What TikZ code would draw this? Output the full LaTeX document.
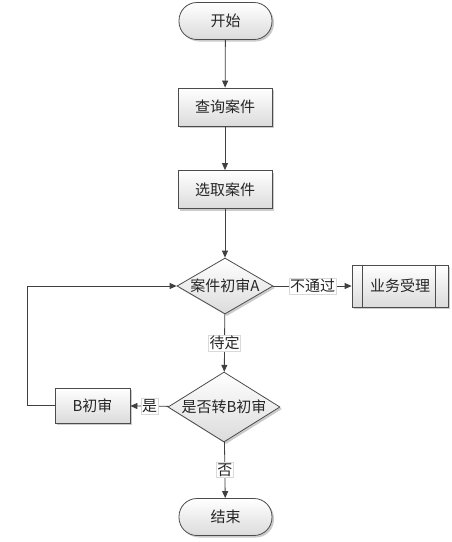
\documentclass[tikz,border=0pt]{standalone}
\usepackage{fontspec}
\newfontfamily\cjk{Noto Sans CJK SC}
\usetikzlibrary{shapes.geometric,shadows,arrows.meta,calc}
\begin{document}
\begin{tikzpicture}[x=1pt,y=-1pt,
  txt/.style={font=\cjk\fontsize{15}{18}\selectfont, text=black!85},
  base/.style={txt, draw=black!70, line width=0.8pt, top color=white, bottom color=black!14,
    drop shadow={shadow xshift=2pt, shadow yshift=-2pt, fill=black!40, opacity=0.5}, inner sep=0pt},
  term/.style={base, rectangle, rounded corners=18pt, minimum width=93pt, minimum height=37pt},
  proc/.style={base, rectangle, minimum width=94pt, minimum height=38pt},
  dec/.style={base, diamond},
  lbl/.style={txt, fill=white, draw=black!15, line width=0.4pt, inner sep=1pt},
  arr/.style={draw=black!75, line width=0.8pt, -{Triangle[length=7pt,width=6pt]}},
  ln/.style={draw=black!75, line width=0.8pt}]
\useasboundingbox[fill=white] (0,0) rectangle (451,542);

\node[term] (start) at (225.5,21) {开始};
\node[proc] (q) at (225,107) {查询案件};
\node[proc] (s) at (225,189.5) {选取案件};
\node[dec, minimum width=96pt, minimum height=56pt] (d1) at (225,286) {\makebox[0pt]{案件初审A}};
\node[proc, minimum width=96pt, minimum height=42pt] (yw) at (400,286) {业务受理};
\draw[draw=black!70, line width=0.8pt] ($(yw.north west)+(11,0)$) -- ($(yw.south west)+(11,0)$)
  ($(yw.north east)+(-13,0)$) -- ($(yw.south east)+(-13,0)$);
\node[dec, minimum width=112pt, minimum height=70pt] (d2) at (224,407) {\makebox[0pt]{是否转B初审}};
\node[proc, minimum width=75pt, minimum height=35pt] (b) at (92.5,405.5) {B初审};
\node[term] (end) at (225.5,517) {结束};
\coordinate (c1) at (27,405.5);
\coordinate (c2) at (27,286);

\draw[arr] (start) -- (q);
\draw[arr] (q) -- (s);
\draw[arr] (s) -- (d1);
\draw[arr] (d1) -- node[lbl] (l1) {不通过} (yw);
\draw[arr] (d1) -- node[lbl] (l2) {待定} (d2);
\draw[arr] (d2) -- node[lbl] (l3) {是} (b);
\draw[arr] (d2) -- node[lbl] (l4) {否} (end);
\draw[arr] (b.west) -- (c1) -- (c2) -- (d1.west);
\end{tikzpicture}
\end{document}
